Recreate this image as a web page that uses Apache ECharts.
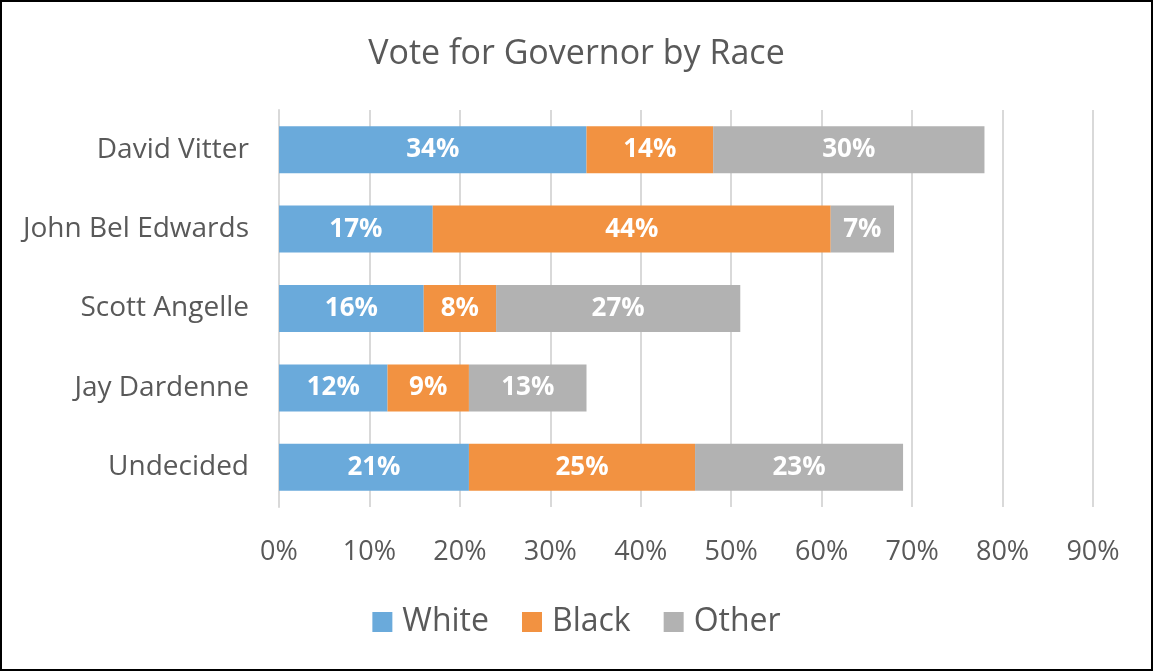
<!DOCTYPE html>
<html>
<head>
<meta charset="utf-8">
<script src="https://cdn.jsdelivr.net/npm/echarts@6/dist/echarts.min.js"></script>
<style>
html,body{margin:0;padding:0;background:#fff;}
#wrap{position:absolute;left:0;top:0;width:1149px;height:667px;border:2px solid #000;}
#chart{width:1149px;height:667px;}
</style>
</head>
<body>
<div id="wrap"><div id="chart"></div></div>
<script>
const categories = ['David Vitter', 'John Bel Edwards', 'Scott Angelle', 'Jay Dardenne', 'Undecided'];
const white = [34, 17, 16, 12, 21];
const black = [14, 44, 8, 9, 25];
const other = [30, 7, 27, 13, 23];
const seriesNames = ['White', 'Black', 'Other'];
const colors = ['#6AAADB', '#F29241', '#B2B2B2'];
const font = '"Open Sans", "Liberation Sans", sans-serif';

const chart = echarts.init(document.getElementById('chart'));
const mk = (name, data, color) => ({
  name: name,
  type: 'bar',
  stack: 'total',
  data: data,
  barWidth: 47,
  itemStyle: { color: color },
  label: {
    show: true,
    position: 'inside',
    formatter: p => p.value + '%',
    color: '#fff',
    fontWeight: 'bold',
    fontSize: 26,
    fontFamily: font,
    padding: [4, 0, 0, 0]
  }
});
chart.setOption({
  animation: false,
  backgroundColor: '#fff',
  title: {
    text: 'Vote for Governor by Race',
    left: 'center',
    top: 30,
    textStyle: { color: '#595959', fontSize: 34, fontWeight: 'normal', fontFamily: font }
  },
  legend: {
    data: seriesNames,
    bottom: 26,
    left: 'center',
    itemWidth: 20,
    itemHeight: 20,
    itemGap: 33,
    icon: 'rect',
    textStyle: { color: '#595959', fontSize: 32, fontFamily: font, padding: [0, 0, 0, 5] }
  },
  grid: { left: 277, right: 58, top: 108, bottom: 162, containLabel: false },
  xAxis: {
    type: 'value',
    min: 0,
    max: 90,
    interval: 10,
    axisLabel: { formatter: '{value}%', color: '#595959', fontSize: 27, fontFamily: font, margin: 32 },
    axisLine: { show: false },
    axisTick: { show: false },
    splitLine: { show: true, lineStyle: { color: '#D9D9D9', width: 2 } }
  },
  yAxis: {
    type: 'category',
    data: categories,
    inverse: true,
    axisLabel: { color: '#595959', fontSize: 28, fontFamily: font, margin: 30, padding: [10, 0, 0, 0] },
    axisLine: { show: true, lineStyle: { color: '#D9D9D9', width: 2 } },
    axisTick: { show: false }
  },
  series: [mk('White', white, colors[0]), mk('Black', black, colors[1]), mk('Other', other, colors[2])]
});
</script>
</body>
</html>
